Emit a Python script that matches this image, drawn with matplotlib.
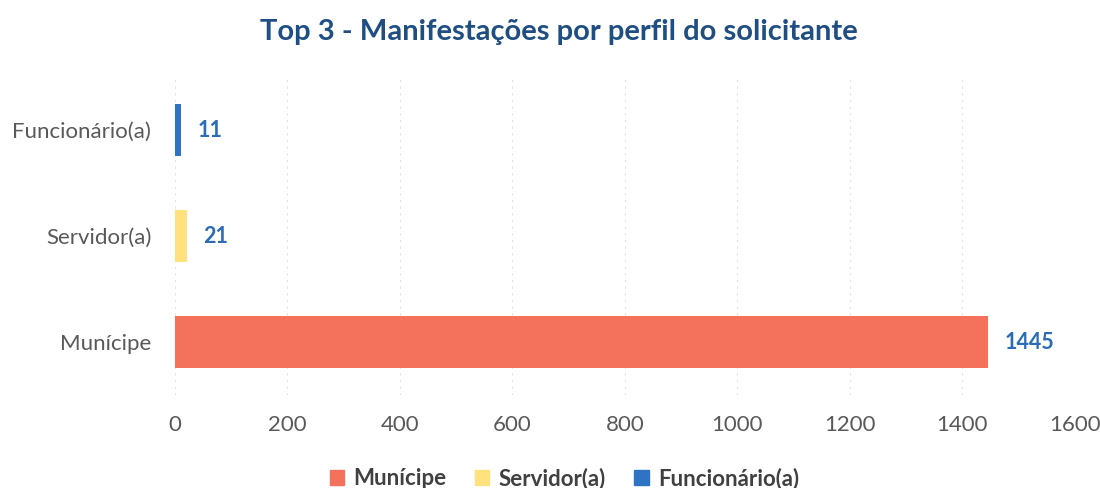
import matplotlib.pyplot as plt

categories = ["Munícipe", "Servidor(a)", "Funcionário(a)"]
values = [1445, 21, 11]
colors = ["#F4725C", "#FFE17D", "#2E73C4"]
xticks = [0, 200, 400, 600, 800, 1000, 1200, 1400, 1600]

plt.rcParams["font.family"] = ["Lato", "DejaVu Sans"]

fig = plt.figure(figsize=(11, 4.88), dpi=100)
ax = fig.add_axes([0.159, 0.19, 0.818, 0.652])

ypos = range(len(categories))
bars = ax.barh(ypos, values, height=0.49, color=colors, label=categories)

for y, v in zip(ypos, values):
    ax.annotate(str(v), (v, y), xytext=(12, 0), textcoords="offset points",
                va="center", ha="left", fontsize=15.5, fontweight="bold",
                color="#2B6CB5")

ax.set_xlim(0, 1600)
ax.set_ylim(-0.5, 2.5)
ax.set_xticks(xticks)
ax.set_yticks(list(ypos))
ax.set_yticklabels(categories)
ax.tick_params(axis="both", length=0, labelsize=16, labelcolor="#595959")
ax.tick_params(axis="x", pad=14)
ax.tick_params(axis="y", pad=17)
ax.grid(axis="x", color="#E2E2E2", linestyle=(0, (2, 4)), linewidth=0.8)
ax.set_axisbelow(True)
for s in ax.spines.values():
    s.set_visible(False)

fig.text(0.508, 0.935, "Top 3 - Manifestações por perfil do solicitante",
         ha="center", va="center", fontsize=21, fontweight="bold",
         color="#1F4E83")

handles = [plt.Rectangle((0, 0), 1, 1, color=c) for c in colors]
leg = fig.legend(handles, categories, loc="center", bbox_to_anchor=(0.513, 0.02),
                 ncol=3, frameon=False, fontsize=16, handlelength=0.65,
                 handleheight=0.65, columnspacing=1.3, handletextpad=0.4)
for t in leg.get_texts():
    t.set_fontweight("bold")
    t.set_color("#404040")

fig.savefig("out.png", dpi=100)
